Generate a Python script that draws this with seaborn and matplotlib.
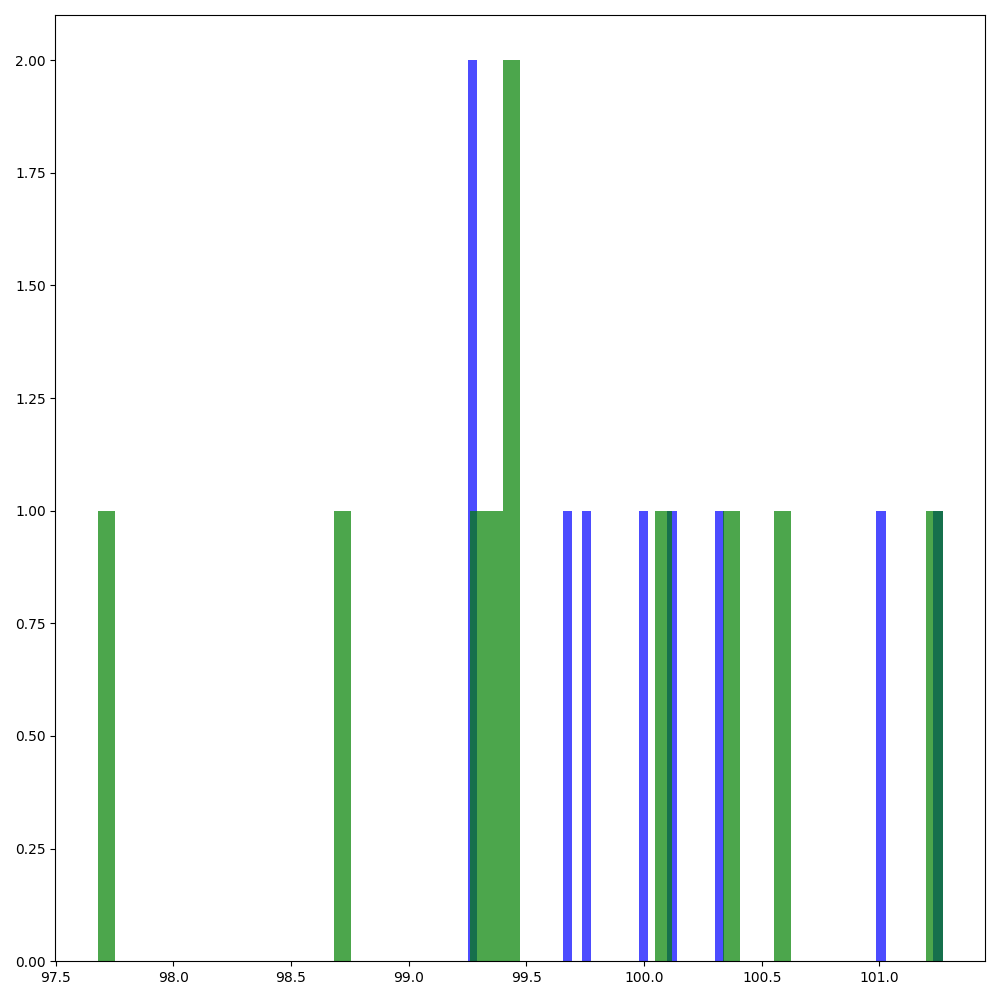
import matplotlib
matplotlib.use("Agg")
import matplotlib.pyplot as plt
import seaborn as sns

blue_values = [99.252, 99.27, 99.676, 99.756, 99.998, 100.119, 100.321, 101.007, 101.269]
green_values = [97.679, 98.720, 99.294, 99.366, 99.438, 99.445, 100.085, 100.372, 100.587, 101.269]

fig, ax = plt.subplots(figsize=(10, 10), dpi=100)
sns.histplot(x=blue_values, bins=50, color="blue", alpha=0.7, linewidth=0, ax=ax)
sns.histplot(x=green_values, bins=50, color="green", alpha=0.7, linewidth=0, ax=ax)
ax.set_xlabel("")
ax.set_ylabel("")
ax.yaxis.set_major_formatter(matplotlib.ticker.FormatStrFormatter("%.2f"))
plt.tight_layout()
fig.savefig("out.png")
